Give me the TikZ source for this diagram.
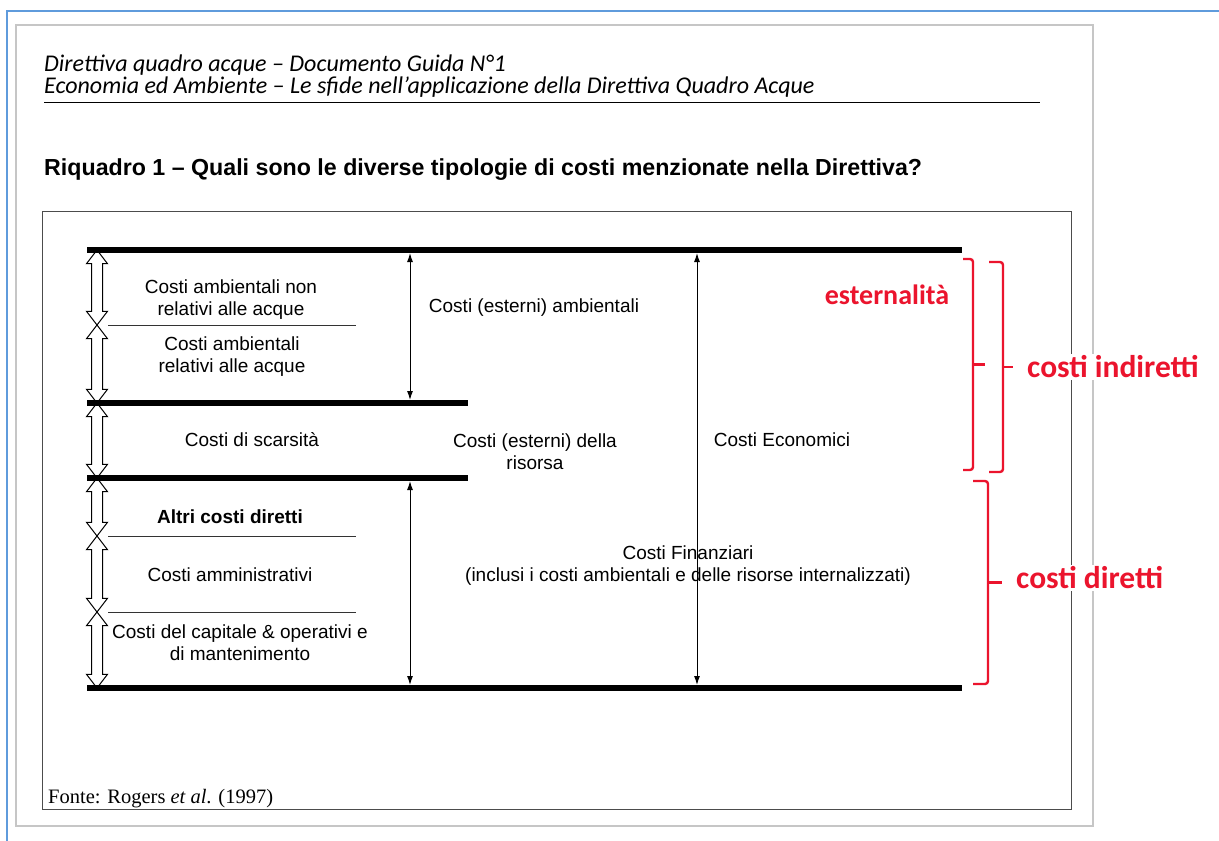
\documentclass[tikz,border=0pt]{standalone}
\usepackage{fontspec}
\setmainfont{Liberation Sans}
\newfontfamily\headfont{Carlito}
\newfontfamily\notefont{Liberation Serif}
\usetikzlibrary{shapes.arrows,arrows.meta,calc}
\definecolor{markred}{RGB}{235,20,45}
\definecolor{frameblue}{RGB}{95,155,220}

\begin{document}
\begin{tikzpicture}[
  x=1pt, y=-1pt,
  label/.style={align=center, font=\fontsize{19}{22}\selectfont, inner sep=1pt},
  band/.style={line width=6pt},
  divider/.style={line width=0.8pt, black!80},
  span/.style={{Latex[length=9pt,width=6pt]}-{Latex[length=9pt,width=6pt]}, line width=1pt, shorten <=3pt, shorten >=3pt},
  hollow/.style={double arrow, draw, line width=1pt, rotate=90, inner sep=5pt,
    double arrow head extend=5pt, double arrow tip angle=75},
  redbracket/.style={markred, line width=2.4pt, rounded corners=3pt},
  redtag/.style={font=\headfont\bfseries\fontsize{31.5}{32}\selectfont, text=markred, fill=white, inner sep=2pt},
]
\fill[white] (0,0) rectangle (1219,841);
\useasboundingbox (0,0) rectangle (1219,841);

% Page frames: blue screen edge, grey page, box of the figure.
\draw[frameblue, line width=1.5pt] (7,841) -- (7,11) -- (1219,11);
\draw[gray!45, line width=2pt] (16,25) rectangle (1093,826);
\draw[black!70, line width=1pt] (42,211) rectangle (1071,809);

% Running header and title.
\node[anchor=west, inner sep=0pt, font=\headfont\itshape\fontsize{24}{26}\selectfont] (head1) at (44,65) {Direttiva quadro acque – Documento Guida N°1};
\node[anchor=west, inner sep=0pt, font=\headfont\itshape\fontsize{24}{26}\selectfont] (head2) at (44,87) {Economia ed Ambiente – Le sfide nell’applicazione della Direttiva Quadro Acque};
\draw[line width=0.9pt] (44,102) -- (1040,102);
\node[anchor=west, inner sep=0pt, font=\bfseries\fontsize{23.2}{26}\selectfont] (title) at (44,170) {Riquadro 1 – Quali sono le diverse tipologie di costi menzionate nella Direttiva?};

% Hollow double arrows on the left, one per cost class.
\foreach \ya/\yb [count=\k] in {250/325, 325/403, 403/478, 478/536, 536/612, 612/688} {
  \node[hollow, minimum height={\yb-\ya}] (h\k) at (97,{(\ya+\yb)/2}) {};
}

% Thick levels.
\coordinate (top-l) at (87,250);  \coordinate (top-r) at (962,250);
\coordinate (res-l) at (87,403);  \coordinate (res-r) at (468,403);
\coordinate (fin-l) at (87,478);  \coordinate (fin-r) at (468,478);
\coordinate (bot-l) at (87,688);  \coordinate (bot-r) at (962,688);
\draw[band] (top-l) -- (top-r);
\draw[band] (res-l) -- (res-r);
\draw[band] (fin-l) -- (fin-r);
\draw[band] (bot-l) -- (bot-r);

% Thin dividers between sub-classes.
\draw[divider] (108,325) -- (356,325);
\draw[divider] (108,536) -- (356,536);
\draw[divider] (108,612) -- (356,612);

% Measuring arrows.
\coordinate (amb-t) at (410,250); \coordinate (amb-b) at (410,403);
\coordinate (fin-t) at (410,478); \coordinate (fin-b) at (410,688);
\coordinate (eco-t) at (697,250); \coordinate (eco-b) at (697,688);
\draw[span] (amb-t) -- (amb-b);
\draw[span] (fin-t) -- (fin-b);
\draw[span] (eco-t) -- (eco-b);

% Labels of the classes.
\node[label] (nonacq) at (231,300) {Costi ambientali non\\relativi alle acque};
\node[label] (acq) at (232,357) {Costi ambientali\\relativi alle acque};
\node[label] (scars) at (252,440) {Costi di scarsità};
\node[label, font=\bfseries\fontsize{19}{22}\selectfont] (altri) at (230,517) {Altri costi diretti};
\node[label] (ammin) at (230,575) {Costi amministrativi};
\node[label] (capit) at (240,643) {Costi del capitale \& operativi e\\di mantenimento};
\node[label] (estamb) at (534,308) {Costi (esterni) ambientali};
\node[label] (estris) at (535,452) {Costi (esterni) della\\risorsa};
\node[label] (econ) at (782,440) {Costi Economici};
\node[label] (finan) at (688,566) {Costi Finanziari\\(inclusi i costi ambientali e delle risorse internalizzati)};

% Red notes added on the right.
\coordinate (ext-t) at (963,259); \coordinate (ext-b) at (963,470);
\coordinate (ind-t) at (989,262); \coordinate (ind-b) at (989,472);
\coordinate (dir-t) at (973,481); \coordinate (dir-b) at (973,684);
\draw[redbracket] (ext-t) -- ++(10,0) |- (ext-b);
\draw[redbracket] ($(ext-t)!0.5!(ext-b)+(10,0)$) -- ++(12,0);
\draw[redbracket] (ind-t) -- ++(14,0) |- (ind-b);
\draw[redbracket] ($(ind-t)!0.5!(ind-b)+(14,0)$) -- ++(10,0);
\draw[redbracket] (dir-t) -- ++(15,0) |- (dir-b);
\draw[redbracket] ($(dir-t)!0.5!(dir-b)+(15,0)$) -- ++(14,0);
\node[redtag, font=\headfont\bfseries\fontsize{28}{30}\selectfont] (ext) at (887,295) {esternalità};
\node[redtag, anchor=west] (ind) at (1025,367) {costi indiretti};
\node[redtag, anchor=west] (dir) at (1014,578) {costi diretti};

% Source.
\node[anchor=west, inner sep=0pt, font=\notefont\fontsize{20.5}{22}\selectfont] (fonte) at (48,799) {Fonte: Rogers \textit{et al}. (1997)};

\end{tikzpicture}
\end{document}
